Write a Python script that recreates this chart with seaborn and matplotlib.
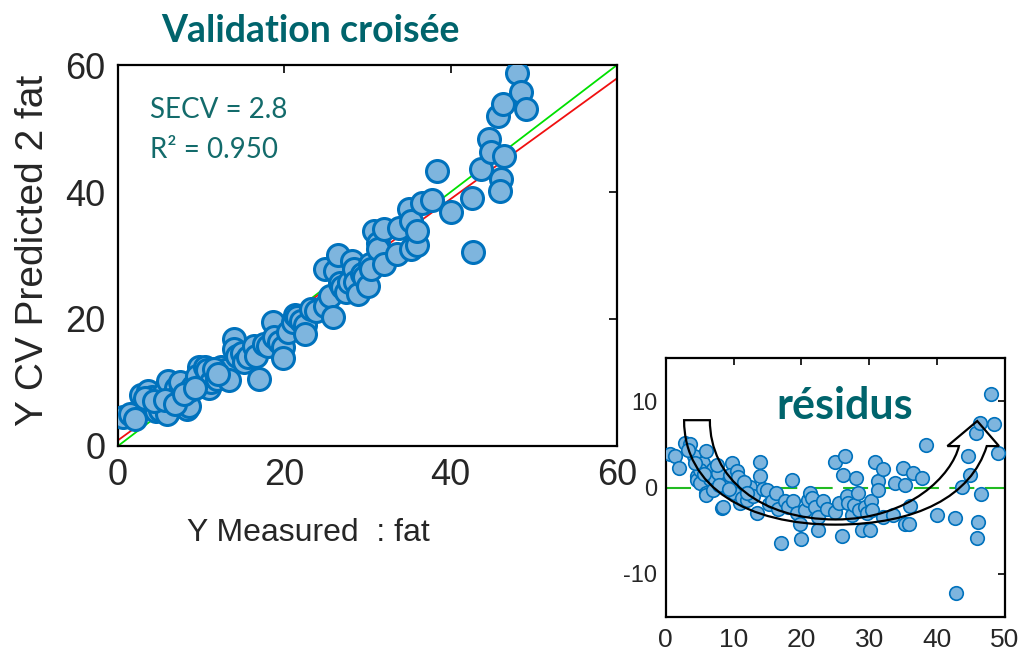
import numpy as np
import pandas as pd
import matplotlib
matplotlib.use("Agg")
import matplotlib.pyplot as plt
import seaborn as sns
from matplotlib.path import Path
from matplotlib.patches import PathPatch

# ---- data ----
measured = [0.6, 1.4, 2.0, 2.8, 3.6, 4.1, 4.6, 4.6, 5.1, 5.5, 5.0, 6.0, 6.0, 5.9, 6.5,
            7.0, 7.3, 7.7, 7.5, 8.3, 8.5, 8.6, 9.0, 9.7, 9.5, 10.0, 10.5, 10.7, 10.9, 11.2,
            11.9, 12.4, 12.9, 13.4, 13.9, 13.9, 14.3, 14.9, 15.2, 15.6, 16.3, 16.6, 17.0, 17.6, 18.0,
            18.6, 18.8, 19.3, 19.8, 19.9, 20.5, 21.0, 21.3, 21.5, 22.0, 22.5, 22.5, 23.2, 23.8,
            24.9, 24.9, 25.5, 25.9, 26.1, 26.4, 26.7, 26.9, 27.4, 27.8, 28.1, 28.4, 28.5, 28.9,
            29.3, 29.6, 30.1, 30.3, 30.4, 30.8, 31.3, 31.3, 32.0, 32.0, 33.5, 33.8, 35.0, 35.2,
            35.2, 35.9, 36.0, 36.5, 37.7, 38.4, 40.0, 42.6, 42.7, 43.6, 44.6, 44.9, 45.7, 46.3,
            46.0, 45.9, 46.4, 48.0, 48.4, 49.0, 3.3, 4.3, 5.6, 6.9, 7.9, 9.3, 11.5, 12.0]
predicted = [4.5, 5.1, 4.3, 8.0, 8.6, 7.7, 5.9, 5.5, 5.6, 8.3, 7.0, 10.2, 5.4, 5.0, 7.5,
             9.1, 8.2, 9.4, 10.1, 5.9, 6.3, 8.8, 9.5, 12.5, 11.0, 9.4, 12.4, 11.9, 9.1, 10.0,
             10.5, 12.5, 11.9, 10.4, 16.8, 15.2, 14.1, 14.6, 13.3, 14.0, 15.7, 14.1, 10.6, 16.0, 15.8,
             19.5, 17.2, 16.3, 15.6, 13.9, 17.9, 19.5, 20.7, 20.3, 19.7, 19.1, 17.6, 21.6, 21.3,
             27.8, 22.1, 23.7, 20.3, 27.6, 30.1, 25.7, 25.1, 24.2, 25.8, 29.2, 27.8, 25.9, 24.0,
             27.1, 26.6, 25.2, 28.7, 27.8, 33.8, 32.0, 31.0, 34.1, 28.6, 30.3, 34.3, 37.3, 35.5,
             31.0, 31.7, 33.9, 38.2, 38.8, 43.3, 36.8, 39.1, 30.5, 43.7, 48.3, 46.3, 52.0, 53.8,
             42.0, 40.1, 45.7, 58.8, 55.8, 53.0, 7.6, 7.1, 7.2, 6.6, 8.2, 9.1, 12.1, 11.4]
fit_slope = 0.95
fit_intercept = 0.9
secv_value = 2.8
r2_value = 0.950
main_ticks = [0, 20, 40, 60]
res_xticks = [0, 10, 20, 30, 40, 50]
res_yticks = [-10, 0, 10]
res_yticklabels = ["-10", "0", "10"]

df = pd.DataFrame({"measured": measured, "predicted": predicted})
df["residual"] = df["predicted"] - df["measured"]

# ---- style ----
sns.set_style("white")
plt.rcParams["font.family"] = ["Liberation Sans Narrow", "Liberation Sans", "DejaVu Sans"]

FACE = "#7EB5DE"
EDGE = "#0072BD"
TEAL = "#00646C"
TEXTC = "#262626"

fig = plt.figure(figsize=(10.18, 6.58), dpi=100)

# ---- main axes ----
ax = fig.add_axes([0.1159, 0.3222, 0.4902, 0.5790])
line_x = np.array([main_ticks[0], main_ticks[-1]], dtype=float)
ax.plot(line_x, line_x, color="#00E000", lw=1.3, zorder=2)
ax.plot(line_x, fit_slope * line_x + fit_intercept, color="#F01010", lw=1.3, zorder=2)
sns.scatterplot(data=df, x="measured", y="predicted", ax=ax, s=250, color=FACE,
                edgecolor=EDGE, linewidth=2.2, zorder=3, legend=False)
ax.set_xlim(0, 60)
ax.set_ylim(0, 60)
ax.set_xticks(main_ticks)
ax.set_yticks(main_ticks)
ax.tick_params(direction="in", length=6, width=1.2, top=True, right=True,
               labelsize=26, pad=9, labelcolor=TEXTC, color="black")
for sp in ax.spines.values():
    sp.set_color("black")
    sp.set_linewidth(1.6)
ax.set_xlabel("Y Measured  : fat", fontsize=23, color=TEXTC, va="top")
ax.xaxis.set_label_coords(0.381, -0.19)
ax.set_ylabel("Y CV Predicted 2 fat", fontsize=28, color=TEXTC)
ax.yaxis.set_label_coords(-0.135, 0.514)
ax.text(3.85, 51.6, f"SECV = {secv_value}", fontsize=20, color="#136B6B",
        family=["Lato", "DejaVu Sans"], va="baseline", ha="left")
ax.text(3.85, 45.35, f"R² = {r2_value:.3f}", fontsize=20, color="#136B6B",
        family=["Lato", "DejaVu Sans"], va="baseline", ha="left")

fig.text(310 / 1018, 1 - 42 / 658, "Validation croisée", fontsize=27,
         fontweight="bold", color=TEAL, family=["Lato", "DejaVu Sans"],
         ha="center", va="baseline")

# ---- residuals inset ----
ax2 = fig.add_axes([0.654, 0.0623, 0.3333, 0.3936])
ax2.axhline(0, color="#22BB22", lw=1.5, dashes=(12, 5), zorder=1)
sns.scatterplot(data=df, x="measured", y="residual", ax=ax2, s=95, color=FACE,
                edgecolor=EDGE, linewidth=1.2, zorder=3, legend=False)
ax2.set_xlim(0, 50)
ax2.set_ylim(-15, 15)
ax2.set_xticks(res_xticks)
ax2.set_yticks(res_yticks)
ax2.set_yticklabels(res_yticklabels)
ax2.set_xlabel("")
ax2.set_ylabel("")
ax2.tick_params(direction="in", length=5, width=1.2, top=True, right=True,
                labelcolor=TEXTC, color="black")
ax2.tick_params(axis="x", labelsize=19, pad=8)
ax2.tick_params(axis="y", labelsize=17, pad=6)
for lbl in ax2.get_yticklabels():
    lbl.set_family(["Liberation Sans", "DejaVu Sans"])
for sp in ax2.spines.values():
    sp.set_color("black")
    sp.set_linewidth(1.6)
ax2.text(0.528, 0.763, "résidus", transform=ax2.transAxes, fontsize=31,
         fontweight="bold", color=TEAL, family=["Lato", "DejaVu Sans"],
         ha="center", va="baseline")

# hollow U-turn arrow annotation
verts = [
    (2.7, 7.8),
    (2.7, 0.0), (12.0, -4.3), (25.0, -4.3),
    (37.0, -4.3), (45.0, -1.0), (47.3, 4.8),
    (49.1, 4.8),
    (45.9, 7.7),
    (41.5, 4.8),
    (43.2, 4.8),
    (42.2, 1.5), (36.0, -3.7), (25.0, -3.7),
    (14.0, -3.7), (6.5, 1.0), (6.5, 7.8),
    (2.7, 7.8),
]
codes = [Path.MOVETO,
         Path.CURVE4, Path.CURVE4, Path.CURVE4,
         Path.CURVE4, Path.CURVE4, Path.CURVE4,
         Path.LINETO, Path.LINETO, Path.LINETO, Path.LINETO,
         Path.CURVE4, Path.CURVE4, Path.CURVE4,
         Path.CURVE4, Path.CURVE4, Path.CURVE4,
         Path.CLOSEPOLY]
ax2.add_patch(PathPatch(Path(verts, codes), facecolor="none", edgecolor="black",
                        lw=1.6, zorder=4))

fig.savefig("out.png", dpi=100)
